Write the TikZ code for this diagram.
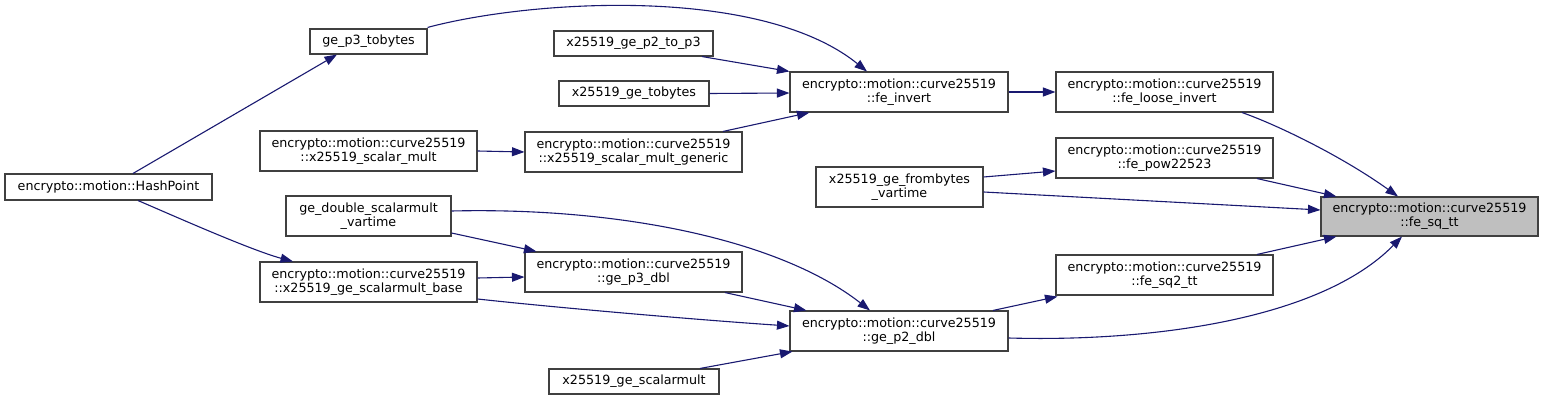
\documentclass[tikz,border=0pt]{standalone}
\usepackage{fontspec}
\setmainfont{DejaVu Sans}
\usetikzlibrary{arrows.meta,calc}
\definecolor{edgeblue}{HTML}{191970}
\definecolor{boxgray}{HTML}{BFBFBF}
\tikzset{
  box/.style={draw=black!75, line width=1.1pt, fill=white, inner sep=0pt, align=center,
    font=\fontsize{12.7}{14}\selectfont},
  hl/.style={box, fill=boxgray},
  edge/.style={draw=edgeblue, line width=1.1pt, -{Triangle[length=12.5pt,width=9pt]}}
}
\begin{document}
\begin{tikzpicture}[x=1pt,y=-1pt]
\useasboundingbox (0,0) rectangle (1544,401);
% nodes
\node[hl, minimum width=217, minimum height=39] (sq) at (1429.5,216.5) {encrypto::motion::curve25519\\::fe\_sq\_tt};
\node[box, minimum width=217, minimum height=40] (li) at (1164.5,92) {encrypto::motion::curve25519\\::fe\_loose\_invert};
\node[box, minimum width=217, minimum height=40] (pw) at (1164.5,158) {encrypto::motion::curve25519\\::fe\_pow22523};
\node[box, minimum width=217, minimum height=40] (s2) at (1164.5,275) {encrypto::motion::curve25519\\::fe\_sq2\_tt};
\node[box, minimum width=218, minimum height=40] (inv) at (899,92) {encrypto::motion::curve25519\\::fe\_invert};
\node[box, minimum width=167, minimum height=40] (fb) at (899.5,187) {x25519\_ge\_frombytes\\\_vartime};
\node[box, minimum width=218, minimum height=40] (p2) at (899,331) {encrypto::motion::curve25519\\::ge\_p2\_dbl};
\node[box, minimum width=170, minimum height=25] (gsm) at (634,381.5) {x25519\_ge\_scalarmult};
\node[box, minimum width=217, minimum height=40] (p3d) at (633.5,272) {encrypto::motion::curve25519\\::ge\_p3\_dbl};
\node[box, minimum width=217, minimum height=40] (smg) at (633.5,152) {encrypto::motion::curve25519\\::x25519\_scalar\_mult\_generic};
\node[box, minimum width=150, minimum height=25] (tb) at (634,93.5) {x25519\_ge\_tobytes};
\node[box, minimum width=159, minimum height=25] (p2p3) at (633.5,43.5) {x25519\_ge\_p2\_to\_p3};
\node[box, minimum width=117, minimum height=25] (p3tb) at (368.5,41.5) {ge\_p3\_tobytes};
\node[box, minimum width=217, minimum height=40] (sm) at (368.5,151) {encrypto::motion::curve25519\\::x25519\_scalar\_mult};
\node[box, minimum width=207, minimum height=26] (hp) at (108.5,187) {encrypto::motion::HashPoint};
\node[box, minimum width=165, minimum height=40] (dsv) at (368.5,216) {ge\_double\_scalarmult\\\_vartime};
\node[box, minimum width=217, minimum height=40] (smb) at (368.5,282) {encrypto::motion::curve25519\\::x25519\_ge\_scalarmult\_base};
% edges into fe_sq_tt
\draw[edge] ($(li.south)+(77.5,0)$) .. controls (1275,124) and (1340,155) .. ($(sq.north)+(-31.5,0)$);
\draw[edge] ($(pw.south)+(92.5,0)$) -- ($(sq.north west)+(16,0)$);
\draw[edge] ($(fb.east)+(0,5)$) -- ($(sq.west)+(0,-6.5)$);
\draw[edge] ($(s2.north)+(92.5,0)$) -- ($(sq.south west)+(16,0)$);
\draw[edge] ($(p2.east)+(0,7)$) .. controls (1150,342) and (1320,320) .. ($(sq.south)+(-27.5,0)$);
% second column
\draw[edge] (inv.east) -- (li.west);
\draw[edge] ($(fb.east)+(0,-10)$) -- ($(pw.west)+(0,13)$);
\draw[edge] ($(p2.north)+(94,0)$) -- ($(s2.south west)+(2,1)$);
% into fe_invert
\draw[edge] ($(p3tb.north east)+(0,-1)$) .. controls (530,0) and (760,-15) .. ($(inv.north)+(-32,0)$);
\draw[edge] ($(p2p3.south)+(68.5,0)$) -- (inv.north west);
\draw[edge] (tb.east) -- ($(inv.west)+(0,1)$);
\draw[edge] ($(smg.north)+(89.5,0)$) -- ($(inv.south west)+(20,0)$);
\draw[edge] (sm.east) -- (smg.west);
% HashPoint
\draw[edge] ($(hp.north)+(24.5,0)$) -- ($(p3tb.south)+(-31.5,0)$);
\draw[edge] ($(hp.south)+(29.5,0)$) .. controls (165,212) and (250,250) .. ($(smb.north)+(-75.5,0)$);
% lower part
\draw[edge] ($(dsv.east)+(0,17)$) -- ($(p3d.north west)+(12,0)$);
\draw[edge] ($(dsv.east)+(0,-5)$) .. controls (620,207) and (780,240) .. ($(p2.north)+(-29,0)$);
\draw[edge] ($(smb.east)+(0,-4)$) -- ($(p3d.west)+(0,5)$);
\draw[edge] ($(smb.east)+(0,17)$) .. controls (560,308) and (700,320) .. ($(p2.west)+(0,-5)$);
\draw[edge] ($(p3d.south)+(91.5,0)$) -- ($(p2.north west)+(17,0)$);
\draw[edge] ($(gsm.north)+(66,0)$) -- ($(p2.south west)+(3,0)$);
\end{tikzpicture}
\end{document}
